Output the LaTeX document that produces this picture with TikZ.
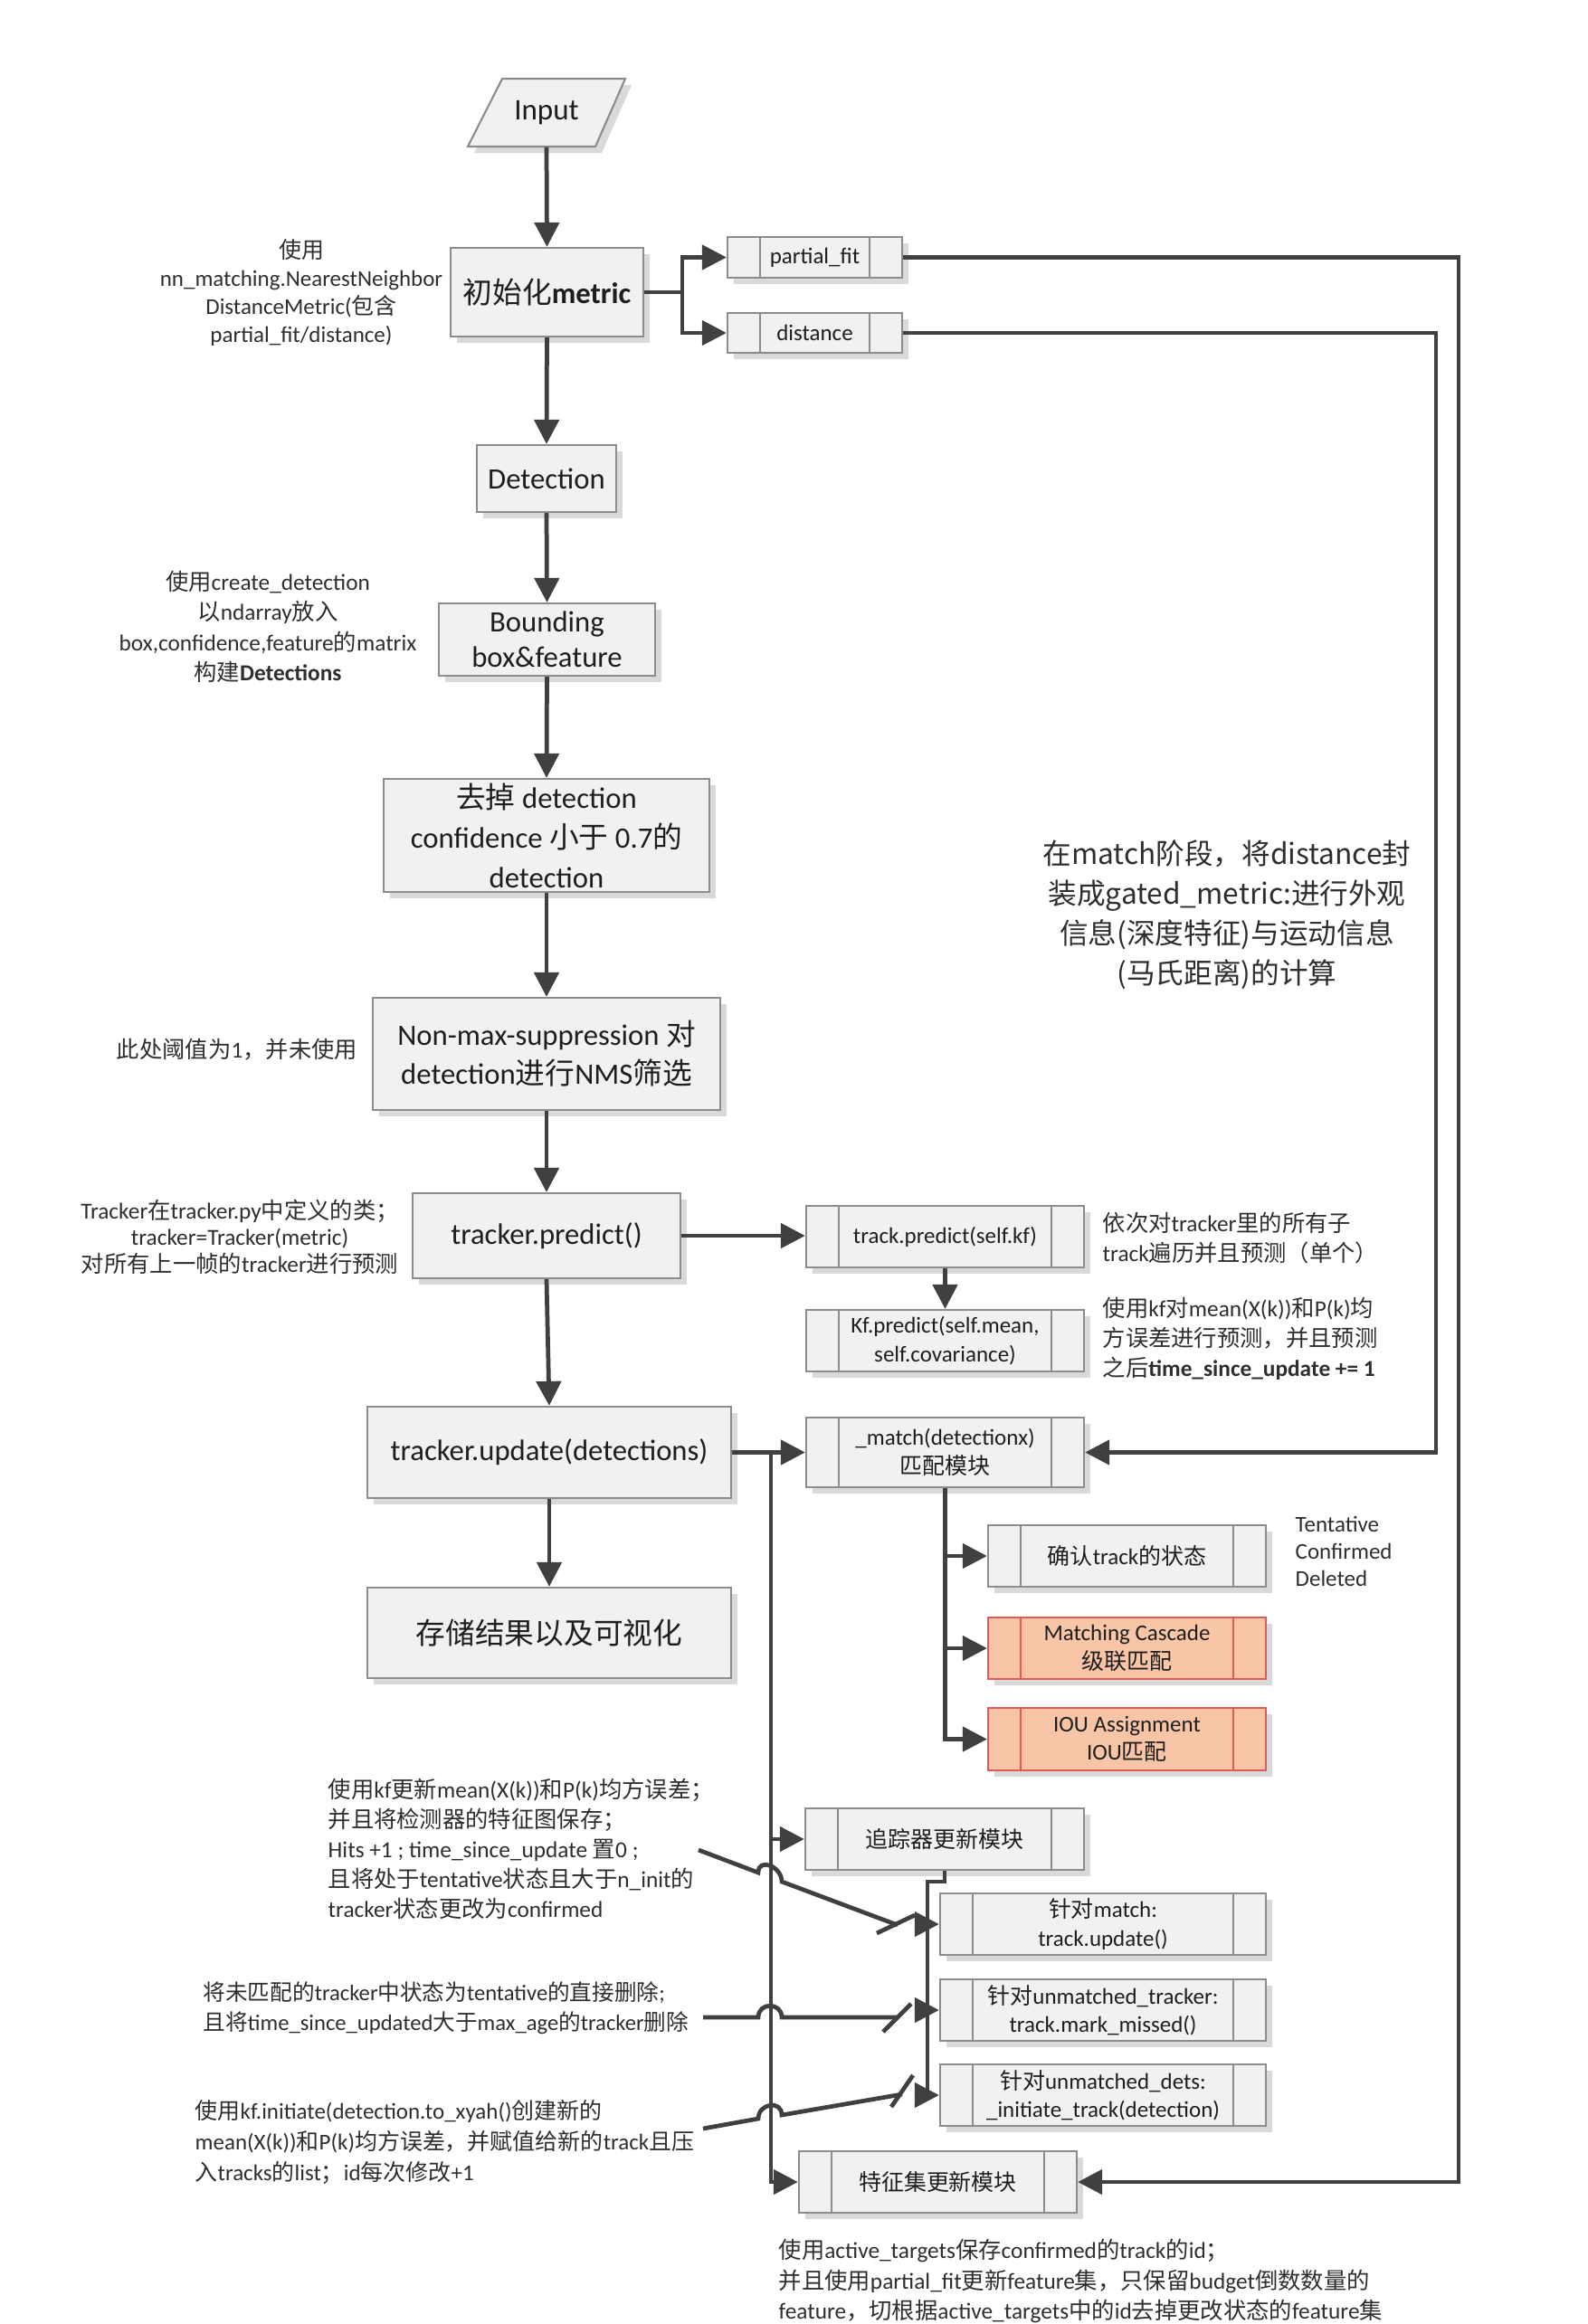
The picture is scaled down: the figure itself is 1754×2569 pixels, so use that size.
\documentclass[tikz,border=0pt]{standalone}
\usepackage{fontspec}
\setmainfont{Carlito}
\newfontfamily\zhf{Noto Sans CJK SC}
\newcommand\zh[1]{{\zhf #1}}
\usetikzlibrary{arrows.meta,shadows}
\definecolor{lncol}{HTML}{404040}
\definecolor{bdcol}{HTML}{8C8C8C}
\definecolor{bfcol}{HTML}{F1F1F1}
\definecolor{txcol}{HTML}{1E1E1E}
\definecolor{ancol}{HTML}{2E2E2E}
\definecolor{orfill}{HTML}{F8C6A6}
\definecolor{orbd}{HTML}{E05A5A}
\newcommand\fsmain{\fontsize{9.3pt}{12.2pt}\selectfont}
\newcommand\fssub{\fontsize{7.1pt}{8.9pt}\selectfont}
\newcommand\fsann{\fontsize{7.2pt}{9.4pt}\selectfont}
\tikzset{
  shad/.style={drop shadow={shadow xshift=0.07cm, shadow yshift=-0.07cm, fill=black!15, opacity=1}},
  mbox/.style={rectangle, draw=bdcol, line width=0.6pt, fill=bfcol, shad, align=center, inner sep=0pt, text=txcol, font=\fsmain},
  seps/.style={path picture={\draw[#1, line width=0.6pt]
     ([xshift=0.36cm]path picture bounding box.north west) -- ([xshift=0.36cm]path picture bounding box.south west)
     ([xshift=-0.36cm]path picture bounding box.north east) -- ([xshift=-0.36cm]path picture bounding box.south east);}},
  sbox/.style={mbox, font=\fssub, seps=bdcol, minimum width=3.07cm, minimum height=0.68cm},
  obox/.style={sbox, fill=orfill, draw=orbd, seps=orbd},
  ann/.style={inner sep=0pt, text=ancol, font=\fsann, align=center},
  lnk/.style={draw=lncol, line width=1.35pt},
  arr/.style={lnk, -{Triangle[length=0.27cm, width=0.27cm]}},
}
\begin{document}
\begin{tikzpicture}[x=0.01cm, y=-0.01cm]
\fill[white] (0,0) rectangle (1754,2569);
\useasboundingbox (0,0) rectangle (1754,2569);

% ---------- Input ----------
\draw[draw=bdcol, line width=0.6pt, fill=bfcol, shad] (517,162) -- (658,162) -- (691,87) -- (555,87) -- cycle;
\node[inner sep=0pt, minimum height=0.75cm, font=\fontsize{9.4pt}{11pt}\selectfont, text=txcol] (input) at (604,124.5) {Input};

% ---------- main column ----------
\node[mbox, minimum width=2.13cm, minimum height=0.98cm] (init) at (604.5,323) {\zh{初始化}\textbf{metric}};
\node[mbox, minimum width=1.54cm, minimum height=0.74cm] (det) at (604,529) {Detection};
\node[mbox, minimum width=2.39cm, minimum height=0.80cm, font=\fontsize{9.3pt}{11.1pt}\selectfont] (bbox) at (604.5,707) {Bounding\\box\&feature};
\node[mbox, minimum width=3.60cm, minimum height=1.25cm, font=\fontsize{9.3pt}{12.5pt}\selectfont] (conf) at (604,923.5) {\zh{去掉} detection\\confidence \zh{小于} 0.7\zh{的}\\detection};
\node[mbox, minimum width=3.84cm, minimum height=1.24cm] (nms) at (604,1165) {Non-max-suppression \zh{对}\\detection\zh{进行}NMS\zh{筛选}};
\node[mbox, minimum width=2.96cm, minimum height=0.94cm] (pred) at (604,1366) {tracker.predict()};
\node[mbox, minimum width=4.02cm, minimum height=1.01cm] (upd) at (607,1605.5) {tracker.update(detections)};
\node[mbox, minimum width=4.02cm, minimum height=1.00cm] (store) at (607,1805) {\zh{存储结果以及可视化}};

% ---------- side boxes ----------
\node[sbox, minimum width=1.93cm, minimum height=0.45cm] (pfit) at (900.5,284.5) {partial\_fit};
\node[sbox, minimum width=1.93cm, minimum height=0.44cm] (dist) at (900.5,368) {distance};
\node[sbox] (tpred) at (1044.5,1367) {track.predict(self.kf)};
\node[sbox] (kfp) at (1044.5,1482) {Kf.predict(self.mean,\\self.covariance)};
\node[sbox, minimum height=0.77cm] (match) at (1044.5,1605.5) {\_match(detectionx)\\\zh{匹配模块}};
\node[sbox] (state) at (1245.5,1720) {\zh{确认}track\zh{的状态}};
\node[obox] (casc) at (1245.5,1822) {Matching Cascade\\\zh{级联匹配}};
\node[obox, minimum height=0.69cm] (iou) at (1245.5,1922.5) {IOU Assignment\\IOU\zh{匹配}};
\node[sbox, minimum width=3.08cm] (tupd) at (1044,2033) {\zh{追踪器更新模块}};
\node[sbox, minimum width=3.60cm] (m1) at (1219,2127) {\zh{针对}match:\\track.update()};
\node[sbox, minimum width=3.60cm] (m2) at (1219,2222) {\zh{针对}unmatched\_tracker:\\track.mark\_missed()};
\node[sbox, minimum width=3.60cm] (m3) at (1219,2316) {\zh{针对}unmatched\_dets:\\\_initiate\_track(detection)};
\node[sbox] (feat) at (1036.5,2412) {\zh{特征集更新模块}};

% ---------- annotations ----------
\node[ann, font=\fontsize{7.1pt}{8.8pt}\selectfont] (a1) at (333,323.5) {\zh{使用}\\nn\_matching.NearestNeighbor\\DistanceMetric(\zh{包含}\\partial\_fit/distance)};
\node[ann, font=\fontsize{7.2pt}{9.5pt}\selectfont] (a2) at (296,693) {\zh{使用}create\_detection\\\zh{以}ndarray\zh{放入}\\box,confidence,feature\zh{的}matrix\\\zh{构建}\textbf{Detections}};
\node[ann] (a3) at (262,1160) {\zh{此处阈值为}1\zh{，并未使用}};
\node[ann, font=\fontsize{7.2pt}{8.4pt}\selectfont] (a4) at (265,1367) {Tracker\zh{在}tracker.py\zh{中定义的类；}\\tracker=Tracker(metric)\\\zh{对所有上一帧的}tracker\zh{进行预测}};
\node[ann, align=left, anchor=west] (a5) at (1218,1368.5) {\zh{依次对}tracker\zh{里的所有子}\\track\zh{遍历并且预测（单个）}};
\node[ann, align=left, anchor=west] (a6) at (1218,1480) {\zh{使用}kf\zh{对}mean(X(k))\zh{和}P(k)\zh{均}\\\zh{方误差进行预测，并且预测}\\\zh{之后}\textbf{time\_since\_update += 1}};
\node[ann, align=left, anchor=west, font=\fontsize{7.1pt}{8.5pt}\selectfont] (a7) at (1431,1715) {Tentative\\Confirmed\\Deleted};
\node[ann, font=\zhf\fontsize{9pt}{12.5pt}\selectfont] (a8) at (1356,1011) {在match阶段，将distance封\\装成gated\_metric:进行外观\\信息(深度特征)与运动信息\\(马氏距离)的计算};
\node[ann, align=left, anchor=west] (a9) at (362,2044) {\zh{使用}kf\zh{更新}mean(X(k))\zh{和}P(k)\zh{均方误差；}\\\zh{并且将检测器的特征图保存；}\\Hits +1 ; time\_since\_update \zh{置}0 ;\\\zh{且将处于}tentative\zh{状态且大于}n\_init\zh{的}\\tracker\zh{状态更改为}confirmed};
\node[ann, align=left, anchor=west, font=\fontsize{7.0pt}{9.4pt}\selectfont] (a10) at (224,2219.5) {\zh{将未匹配的}tracker\zh{中状态为}tentative\zh{的直接删除};\\\zh{且将}time\_since\_updated\zh{大于}max\_age\zh{的}tracker\zh{删除}};
\node[ann, align=left, anchor=west, font=\fontsize{7.1pt}{9.6pt}\selectfont] (a11) at (215,2368) {\zh{使用}kf.initiate(detection.to\_xyah()\zh{创建新的}\\mean(X(k))\zh{和}P(k)\zh{均方误差，并赋值给新的}track\zh{且压}\\\zh{入}tracks\zh{的}list\zh{；}id\zh{每次修改}+1};
\node[ann, align=left, anchor=west] (a12) at (860,2521.5) {\zh{使用}active\_targets\zh{保存}confirmed\zh{的}track\zh{的}id\zh{；}\\\zh{并且使用}partial\_fit\zh{更新}feature\zh{集，只保留}budget\zh{倒数数量的}\\feature\zh{，切根据}active\_targets\zh{中的}id\zh{去掉更改状态的}feature\zh{集}};

% ---------- connectors ----------
\draw[arr] (input.south) -- (init.north);
\coordinate (jn) at (754,323);
\draw[lnk] (init.east) -- (jn);
\draw[arr] (jn) |- (pfit.west);
\draw[arr] (jn) |- (dist.west);
\coordinate (rxa) at (1612,284.5);
\coordinate (rxb) at (1587,368);
\draw[arr] (pfit.east) -- (pfit.east -| rxa) |- (feat.east);
\draw[arr] (dist.east) -- (dist.east -| rxb) |- (match.east);
\draw[arr] (init.south) -- (det.north);
\draw[arr] (det.south) -- (bbox.north);
\draw[arr] (bbox.south) -- (conf.north);
\draw[arr] (conf.south) -- (nms.north);
\draw[arr] (nms.south) -- (pred.north);
\draw[arr] (pred.south) -- (upd.north);
\draw[arr] (upd.south) -- (store.north);
\draw[arr] (pred.east) -- (pred.east -| tpred.west);
\draw[arr] (tpred.south) -- (kfp.north);
\draw[arr] (upd.east) -- (upd.east -| match.west);
\coordinate (bx) at (852,1605.5);
\draw[arr] (bx) -- (bx |- feat.west) -- (feat.west);
\draw[arr] (bx |- tupd.west) -- (tupd.west);
\draw[arr] (match.south) -- (match.south |- iou.west) -- (iou.west);
\draw[arr] (match.south |- state.west) -- (state.west);
\draw[arr] (match.south |- casc.west) -- (casc.west);
\coordinate (mx) at (1025,2080);
\draw[arr] (tupd.south) -- (tupd.south |- mx) -- (mx) -- (mx |- m3.west) -- (m3.west);
\draw[arr] (mx |- m1.west) -- (m1.west);
\draw[arr] (mx |- m2.west) -- (m2.west);

% ---------- annotation leaders with line hops ----------
\coordinate (s1) at (772,2045);  \coordinate (e1) at (992,2128);
\coordinate (s2) at (777,2230);  \coordinate (e2) at (991,2230);
\coordinate (s3) at (777,2353);  \coordinate (e3) at (997,2315);
\draw[lnk] (s1) -- (838,2070) .. controls +(0,-17) and +(0,-17) .. (864,2080) -- (e1);
\draw[lnk] (969,2137) -- (1011,2117);
\draw[lnk] (s2) -- (838,2230) .. controls +(0,-17) and +(0,-17) .. (864,2230) -- (e2);
\draw[lnk] (976,2246) -- (1007,2215);
\draw[lnk] (s3) -- (838,2342) .. controls +(0,-17) and +(0,-17) .. (864,2338) -- (e3);
\draw[lnk] (985,2329) -- (1009,2294);
\end{tikzpicture}
\end{document}
